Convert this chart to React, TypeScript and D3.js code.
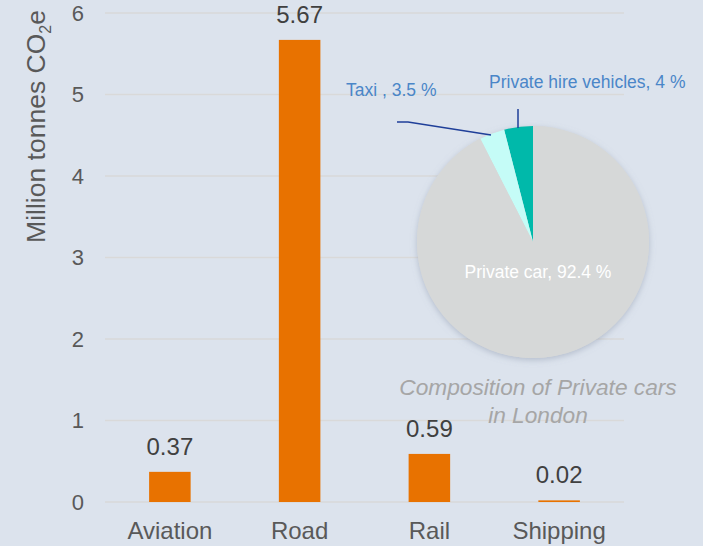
import React from "react";
import * as d3 from "d3";

const categories = ["Aviation", "Road", "Rail", "Shipping"];
const values = [0.37, 5.67, 0.59, 0.02];
const valueLabels = ["0.37", "5.67", "0.59", "0.02"];
const yTicks = [0, 1, 2, 3, 4, 5, 6];

const pieNames = ["Private hire vehicles", "Taxi ", "Private car"];
const pieValues = [4, 3.5, 92.4];
const pieLabels = ["Private hire vehicles, 4 %", "Taxi , 3.5 %", "Private car, 92.4 %"];
const pieColors = ["#00B9AA", "#C5FCF7", "#D6D8D8"];

const W = 703, H = 546;
const FONT = "'Liberation Sans', Arial, sans-serif";

export default function App() {
  const x = d3.scaleBand<string>().domain(categories).range([105, 624]).paddingInner(0.68).paddingOuter(0.34);
  const y = d3.scaleLinear().domain([0, 6]).range([502, 13]);

  const cx = 533, cy = 242, r = 116;
  const pie = d3.pie<number>().sort(null).startAngle(0).endAngle(-2 * Math.PI)(pieValues);
  const arc = d3.arc<d3.PieArcDatum<number>>().innerRadius(0).outerRadius(r);

  return (
    <div style={{ position: "absolute", left: 0, top: 0 }}>
      <svg width={W} height={H} style={{ display: "block" }}>
        <defs>
          <filter id="sh" x="-20%" y="-20%" width="140%" height="140%">
            <feDropShadow dx="0" dy="2" stdDeviation="3" floodColor="#8a96aa" floodOpacity="0.5" />
          </filter>
        </defs>
        <rect width={W} height={H} fill="#DCE3ED" />
        {yTicks.map((t) => (
          <g key={t}>
            <line x1={105} x2={624} y1={y(t)} y2={y(t)} stroke="#D9D9D9" strokeWidth={1.3} />
            <text x={84} y={y(t)} dy="0.36em" textAnchor="end" fontFamily={FONT} fontSize={22} fill="#595959">{t}</text>
          </g>
        ))}
        <text transform={`translate(45,126.5) rotate(-90)`} textAnchor="middle" fontFamily={FONT} fontSize={26.5} fill="#595959">
          Million tonnes CO<tspan fontSize={16} dy="6">2</tspan><tspan dy="-6">e</tspan>
        </text>
        {categories.map((c, i) => (
          <g key={c}>
            <rect x={x(c)} y={y(values[i])} width={x.bandwidth()} height={Math.max(1, y(0) - y(values[i]))} fill="#E87200" />
            <text x={(x(c) as number) + x.bandwidth() / 2} y={y(values[i]) - 17} textAnchor="middle" fontFamily={FONT} fontSize={24} fill="#404040">{valueLabels[i]}</text>
            <text x={(x(c) as number) + x.bandwidth() / 2} y={539} textAnchor="middle" fontFamily={FONT} fontSize={24} fill="#595959">{c}</text>
          </g>
        ))}
        <g transform={`translate(${cx},${cy})`}>
          <circle r={r} fill="#D6D8D8" filter="url(#sh)" />
          {pie.map((p, i) => (
            <path key={pieNames[i]} d={arc(p) as string} fill={pieColors[i]} />
          ))}
        </g>
        <text x={538} y={277.5} textAnchor="middle" fontFamily={FONT} fontSize={17.5} fill="#FFFFFF">{pieLabels[2]}</text>
        <text x={346} y={96} fontFamily={FONT} fontSize={17.5} fill="#4A86C8">{pieLabels[1]}</text>
        <text x={489} y={87.5} fontFamily={FONT} fontSize={17.5} fill="#4A86C8">{pieLabels[0]}</text>
        <polyline points="397,122 408,122 491,135" fill="none" stroke="#1F3F99" strokeWidth={1.5} />
        <line x1={518} x2={518} y1={109} y2={128} stroke="#1F3F99" strokeWidth={1.5} />
        <text x={538} y={395} textAnchor="middle" fontFamily={FONT} fontSize={22.7} fontStyle="italic" fill="#A6A6A6">Composition of Private cars</text>
        <text x={538} y={423} textAnchor="middle" fontFamily={FONT} fontSize={22.7} fontStyle="italic" fill="#A6A6A6">in London</text>
      </svg>
    </div>
  );
}
